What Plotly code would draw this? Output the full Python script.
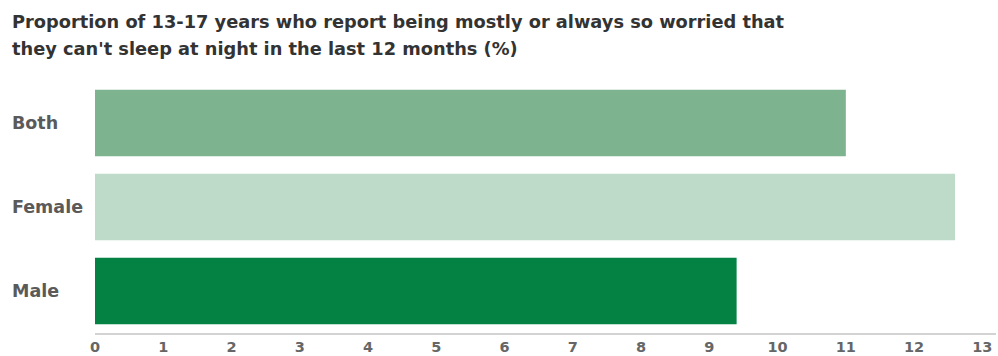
import plotly.graph_objects as go

# Survey results
categories = ["Both", "Female", "Male"]
values = [11.0, 12.6, 9.4]
bar_colors = ["#7db38e", "#bddbc8", "#038244"]
tick_values = list(range(0, 14))

title_lines = [
    "Proportion of 13-17 years who report being mostly or always so worried that",
    "they can't sleep at night in the last 12 months (%)",
]

W, H = 998, 356
margin_l, margin_r, margin_t, margin_b = 95, 2, 81, 23
plot_w = W - margin_l - margin_r
plot_h = H - margin_t - margin_b
FONT = "DejaVu Sans"


def px_to_paper_x(px):
    return (px - margin_l) / plot_w


def px_to_paper_y(py):
    return (H - margin_b - py) / plot_h


fig = go.Figure(
    go.Bar(
        x=values,
        y=categories,
        orientation="h",
        marker=dict(color=bar_colors, line=dict(width=0)),
        hoverinfo="x+y",
    )
)

# Two-line title at the top-left of the page
for line, cy in zip(title_lines, [22, 48]):
    fig.add_annotation(
        x=px_to_paper_x(10), xref="paper", xanchor="left",
        y=px_to_paper_y(cy), yref="paper", yanchor="middle",
        text=f"<b>{line}</b>", showarrow=False,
        font=dict(family=FONT, size=17.8, color="#333333"),
    )

# Category labels, left-aligned at the page edge
for cat in categories:
    fig.add_annotation(
        x=px_to_paper_x(10), xref="paper", xanchor="left",
        y=cat, yref="y", yanchor="middle",
        text=f"<b>{cat}</b>", showarrow=False,
        font=dict(family=FONT, size=17.5, color="#5a5a5a"),
    )

fig.update_layout(
    width=W, height=H,
    margin=dict(l=margin_l, r=margin_r, t=margin_t, b=margin_b, autoexpand=False),
    paper_bgcolor="white", plot_bgcolor="white",
    bargap=0.21,
    showlegend=False,
    xaxis=dict(
        range=[0, 13.2],
        tickvals=tick_values,
        ticktext=[f"<b>{v}</b>" for v in tick_values],
        tickfont=dict(family=FONT, size=14.5, color="#666666"),
        showgrid=False, zeroline=False,
        showline=True, linecolor="#d3d3d3", linewidth=2,
        ticks="", ticklabelstandoff=0, automargin=False,
    ),
    yaxis=dict(
        categoryorder="array", categoryarray=categories[::-1],
        showticklabels=False, showgrid=False, zeroline=False,
        showline=False, ticks="", automargin=False,
    ),
)

fig.write_html("out.html")
